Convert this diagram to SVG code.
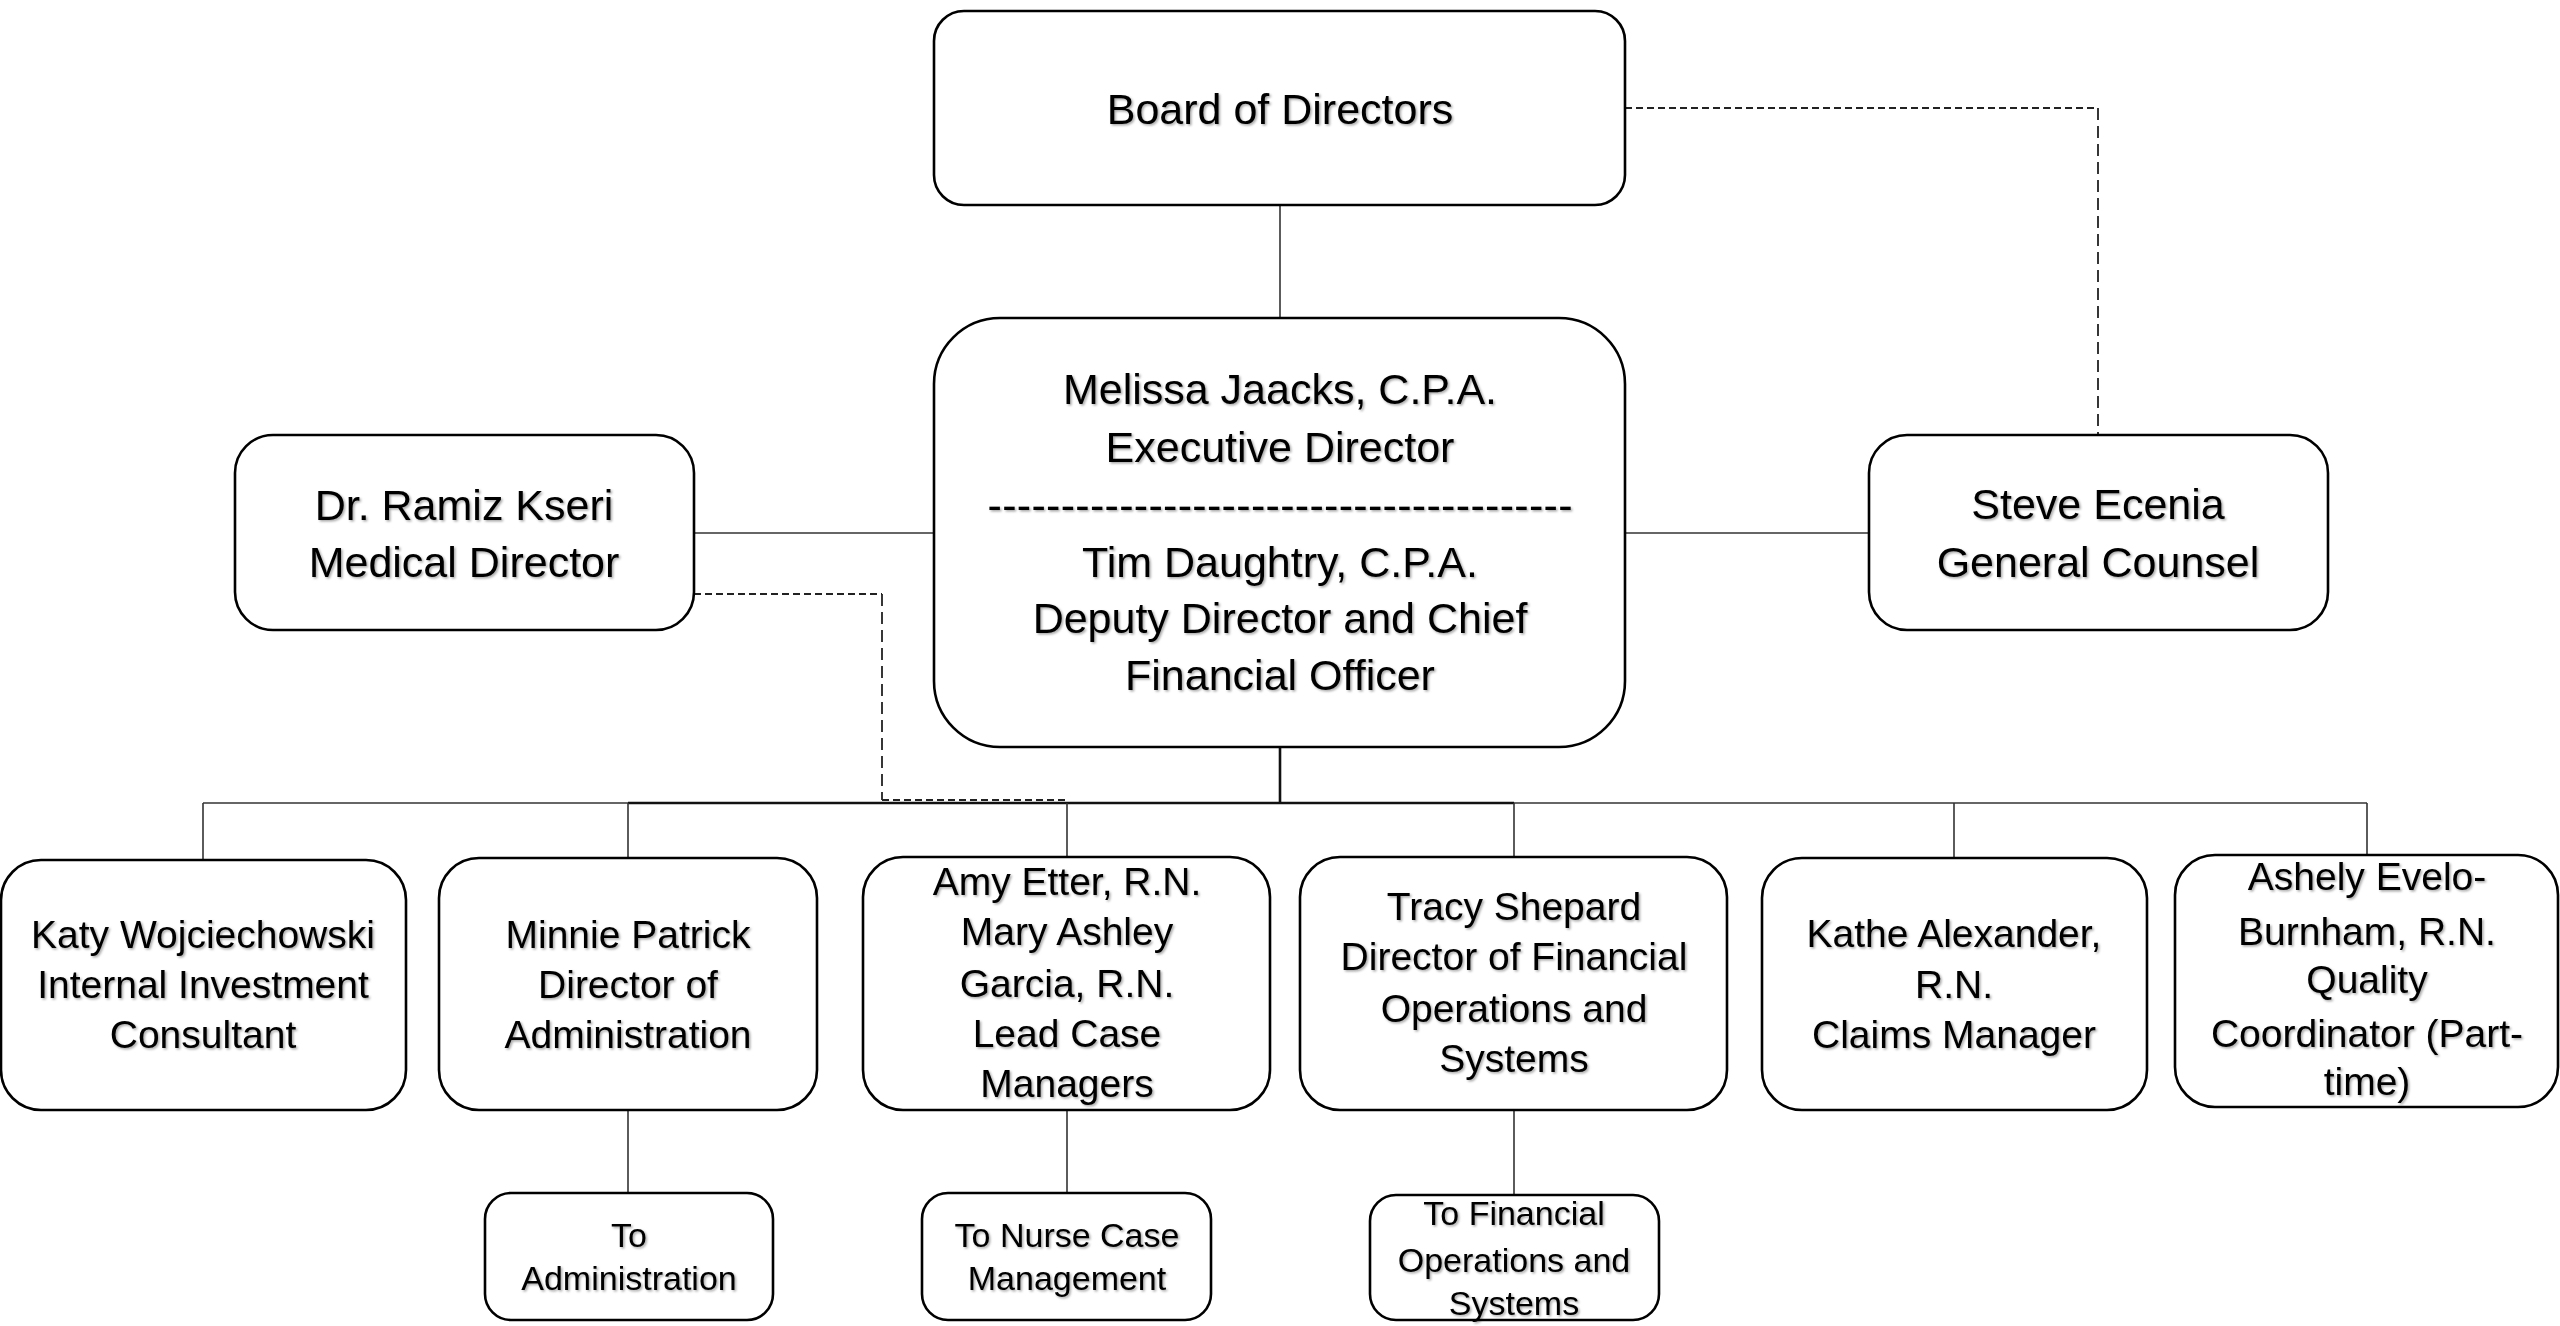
<svg xmlns="http://www.w3.org/2000/svg" width="2560" height="1326" viewBox="0 0 2560 1326">
<defs>
<filter id="ts" x="-5%" y="-20%" width="110%" height="140%">
<feDropShadow dx="1.5" dy="1.5" stdDeviation="0.9" flood-color="#000" flood-opacity="0.35"/>
</filter>
<style>
.box{fill:#fff;stroke:#000;stroke-width:2.6}
.t{font-family:"Liberation Sans",Arial,sans-serif;fill:#000;text-anchor:middle;filter:url(#ts)}
.big{font-size:43px}
.mid{font-size:39px}
.sm{font-size:34px}
.ln{fill:none;stroke:#333;stroke-width:1.6}
.lnd{fill:none;stroke:#111;stroke-width:2.6}
.dh{fill:none;stroke:#222;stroke-width:2;stroke-dasharray:7 4}
.dv{fill:none;stroke:#222;stroke-width:1.8;stroke-dasharray:12 6}
</style>
</defs>
<g id="connectors">
<line class="ln" x1="1280" y1="205" x2="1280" y2="318"/>
<line class="ln" x1="694" y1="533" x2="934" y2="533"/>
<line class="ln" x1="1625" y1="533" x2="1869" y2="533"/>
<path class="dh" d="M1625,108 H2098"/>
<path class="dv" d="M2098,108 V435"/>
<path class="dh" d="M694,594 H882"/>
<path class="dv" d="M882,594 V800"/>
<path class="dh" d="M882,800 H1068"/>
<line class="ln" x1="203" y1="803" x2="2367" y2="803"/>
<line class="lnd" x1="628" y1="803" x2="1514" y2="803"/>
<line class="lnd" x1="1280" y1="747" x2="1280" y2="803"/>
<line class="ln" x1="203" y1="803" x2="203" y2="860"/>
<line class="ln" x1="628" y1="803" x2="628" y2="858"/>
<line class="ln" x1="1067" y1="803" x2="1067" y2="857"/>
<line class="ln" x1="1514" y1="803" x2="1514" y2="857"/>
<line class="ln" x1="1954" y1="803" x2="1954" y2="858"/>
<line class="ln" x1="2367" y1="803" x2="2367" y2="855"/>
<line class="ln" x1="628" y1="1110" x2="628" y2="1193"/>
<line class="ln" x1="1067" y1="1110" x2="1067" y2="1193"/>
<line class="ln" x1="1514" y1="1110" x2="1514" y2="1195"/>
</g>
<g id="board">
<rect class="box" x="934" y="11" width="691" height="194" rx="30"/>
<text class="t big" x="1280" y="124">Board of Directors</text>
</g>
<g id="executive">
<rect class="box" x="934" y="318" width="691" height="429" rx="66"/>
<text class="t big" x="1280" y="404">Melissa Jaacks, C.P.A.</text>
<text class="t big" x="1280" y="462">Executive Director</text>
<text class="t big" x="1280" y="520" textLength="585" lengthAdjust="spacing">----------------------------------------</text>
<text class="t big" x="1280" y="577">Tim Daughtry, C.P.A.</text>
<text class="t big" x="1280" y="633">Deputy Director and Chief</text>
<text class="t big" x="1280" y="690">Financial Officer</text>
</g>
<g id="medical">
<rect class="box" x="235" y="435" width="459" height="195" rx="38"/>
<text class="t big" x="464" y="520">Dr. Ramiz Kseri</text>
<text class="t big" x="464" y="577">Medical Director</text>
</g>
<g id="counsel">
<rect class="box" x="1869" y="435" width="459" height="195" rx="38"/>
<text class="t big" x="2098" y="519">Steve Ecenia</text>
<text class="t big" x="2098" y="577">General Counsel</text>
</g>
<g id="katy">
<rect class="box" x="1" y="860" width="405" height="250" rx="40"/>
<text class="t mid" x="203" y="948">Katy Wojciechowski</text>
<text class="t mid" x="203" y="998">Internal Investment</text>
<text class="t mid" x="203" y="1048">Consultant</text>
</g>
<g id="minnie">
<rect class="box" x="439" y="858" width="378" height="252" rx="40"/>
<text class="t mid" x="628" y="948">Minnie Patrick</text>
<text class="t mid" x="628" y="998">Director of</text>
<text class="t mid" x="628" y="1048">Administration</text>
</g>
<g id="amy">
<rect class="box" x="863" y="857" width="407" height="253" rx="40"/>
<text class="t mid" x="1067" y="895">Amy Etter, R.N.</text>
<text class="t mid" x="1067" y="945">Mary Ashley</text>
<text class="t mid" x="1067" y="997">Garcia, R.N.</text>
<text class="t mid" x="1067" y="1047">Lead Case</text>
<text class="t mid" x="1067" y="1097">Managers</text>
</g>
<g id="tracy">
<rect class="box" x="1300" y="857" width="427" height="253" rx="40"/>
<text class="t mid" x="1514" y="920">Tracy Shepard</text>
<text class="t mid" x="1514" y="970">Director of Financial</text>
<text class="t mid" x="1514" y="1022">Operations and</text>
<text class="t mid" x="1514" y="1072">Systems</text>
</g>
<g id="kathe">
<rect class="box" x="1762" y="858" width="385" height="252" rx="40"/>
<text class="t mid" x="1954" y="947">Kathe Alexander,</text>
<text class="t mid" x="1954" y="998">R.N.</text>
<text class="t mid" x="1954" y="1048">Claims Manager</text>
</g>
<g id="ashely">
<rect class="box" x="2175" y="855" width="383" height="252" rx="40"/>
<text class="t mid" x="2367" y="890">Ashely Evelo-</text>
<text class="t mid" x="2367" y="945">Burnham, R.N.</text>
<text class="t mid" x="2367" y="993">Quality</text>
<text class="t mid" x="2367" y="1047">Coordinator (Part-</text>
<text class="t mid" x="2367" y="1095">time)</text>
</g>
<g id="to-administration">
<rect class="box" x="485" y="1193" width="288" height="127" rx="26"/>
<text class="t sm" x="629" y="1247">To</text>
<text class="t sm" x="629" y="1290">Administration</text>
</g>
<g id="to-nurse">
<rect class="box" x="922" y="1193" width="289" height="127" rx="26"/>
<text class="t sm" x="1067" y="1247">To Nurse Case</text>
<text class="t sm" x="1067" y="1290">Management</text>
</g>
<g id="to-financial">
<rect class="box" x="1370" y="1195" width="289" height="125" rx="26"/>
<text class="t sm" x="1514" y="1225">To Financial</text>
<text class="t sm" x="1514" y="1272">Operations and</text>
<text class="t sm" x="1514" y="1315">Systems</text>
</g>
</svg>
